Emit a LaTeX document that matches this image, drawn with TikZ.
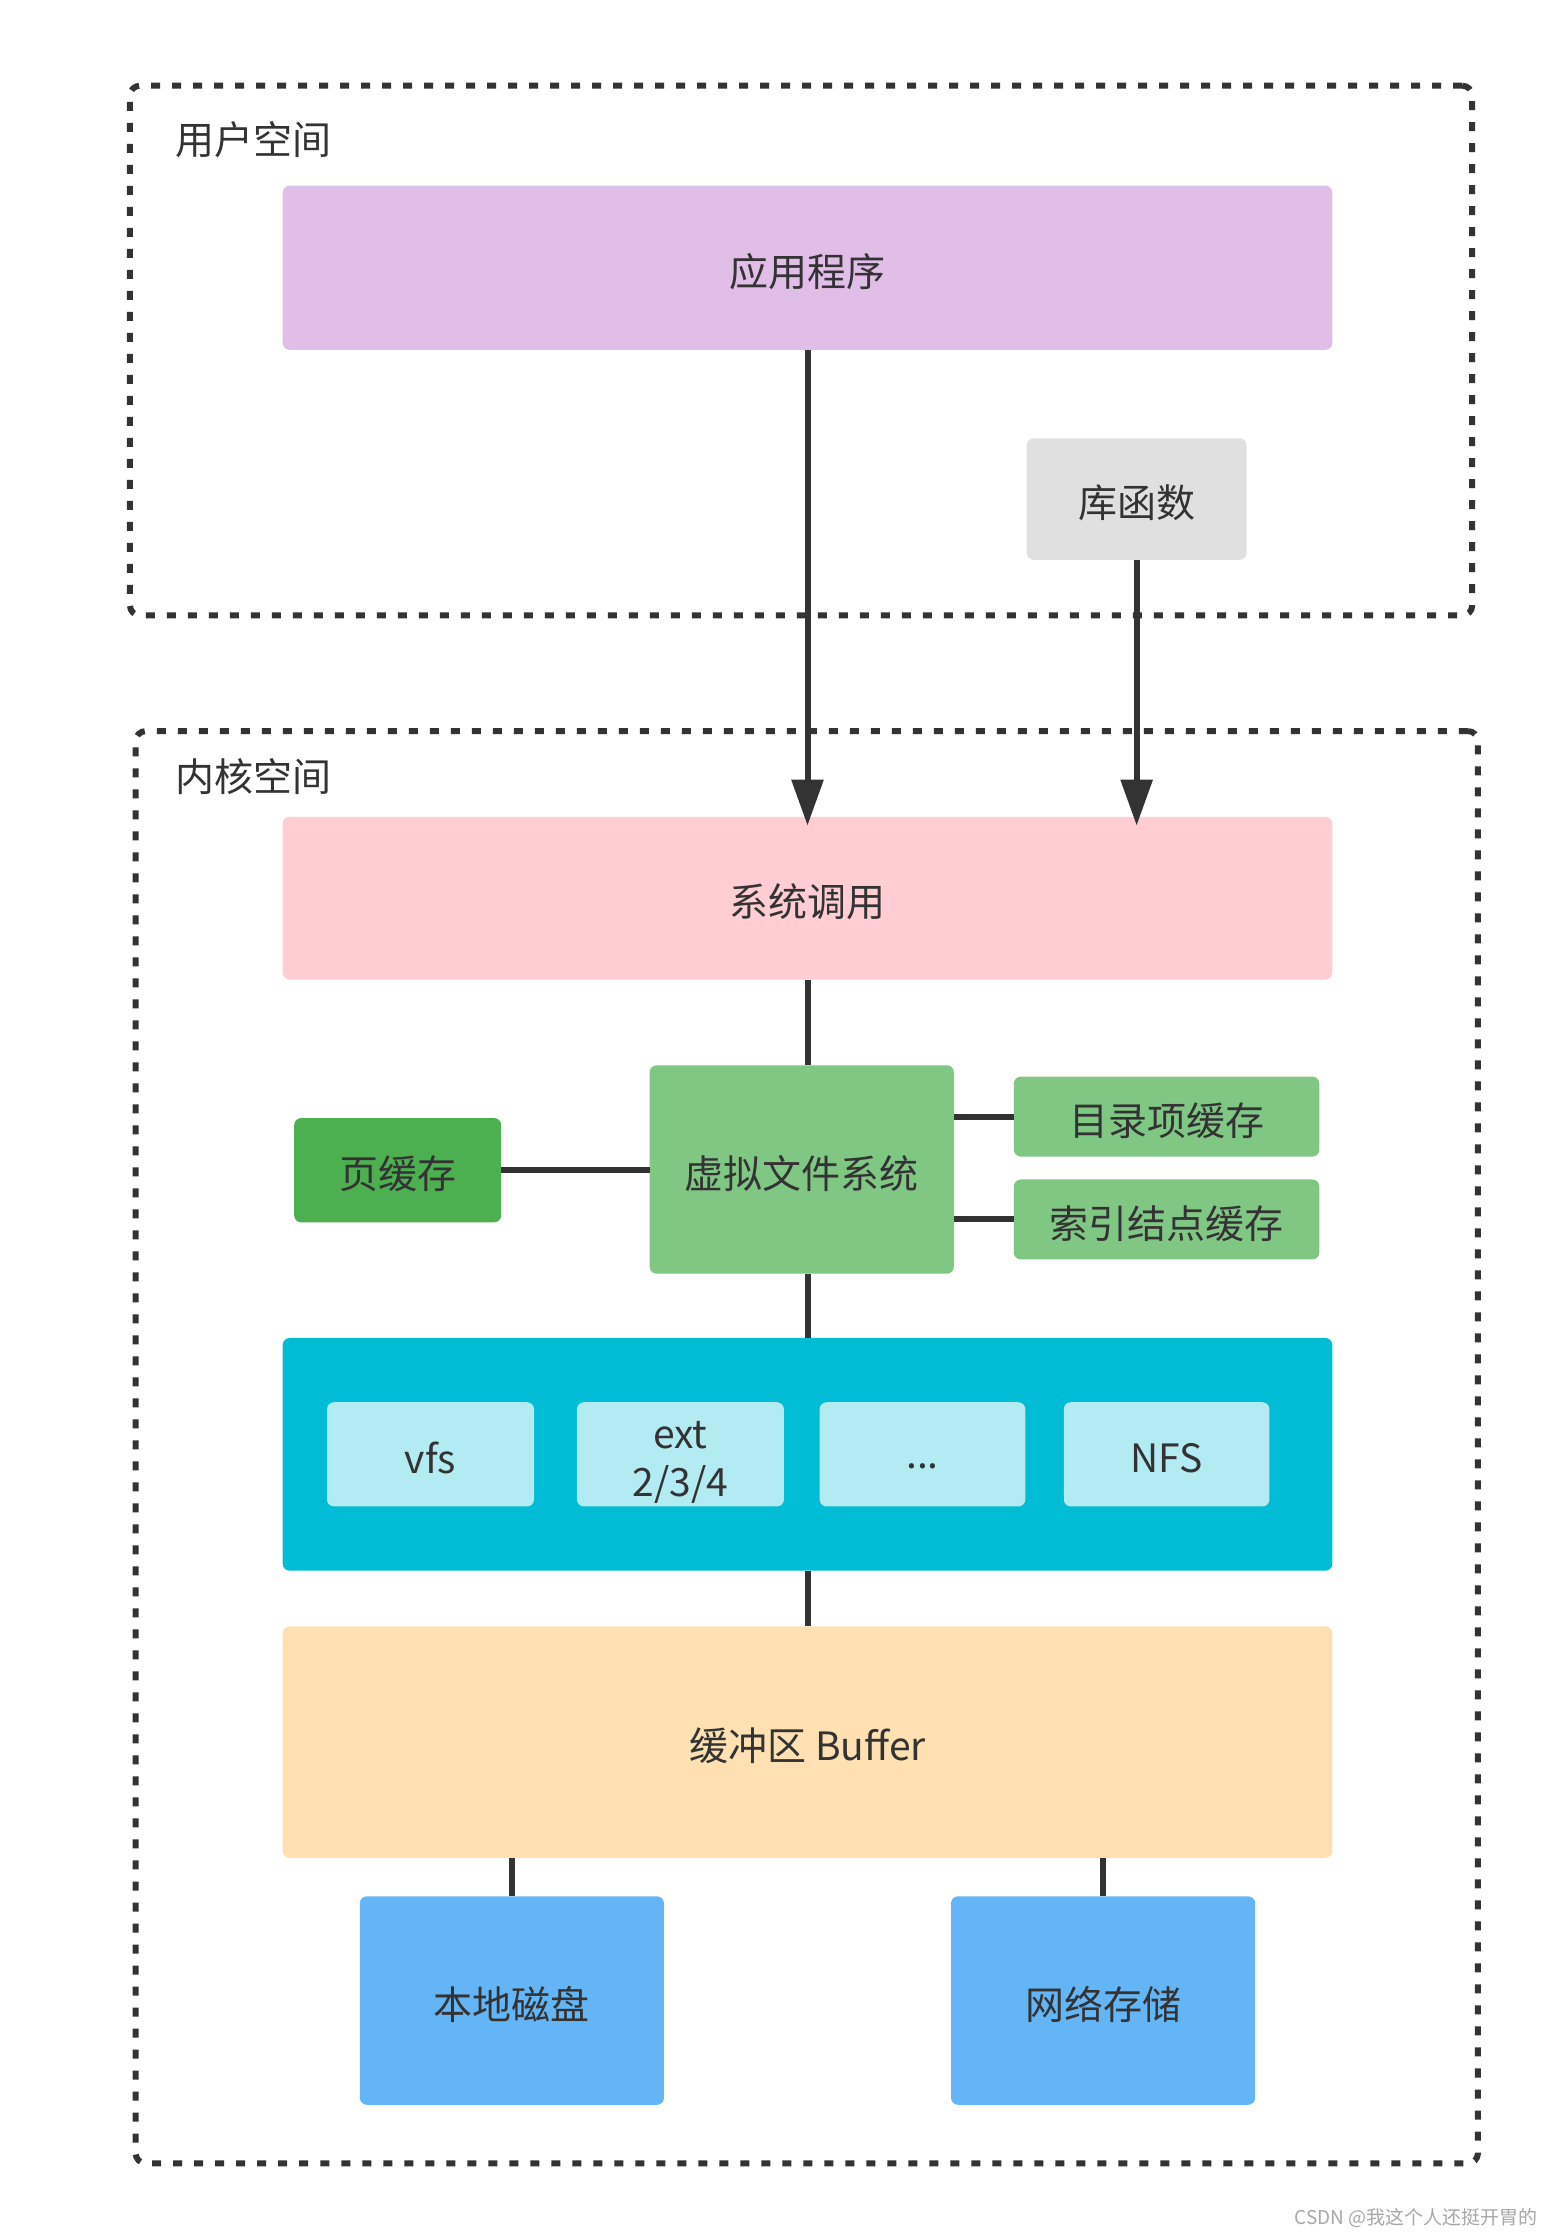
\documentclass[tikz,border=0pt]{standalone}
\usepackage{fontspec}
\setmainfont{Noto Sans CJK SC}
\usetikzlibrary{fit,arrows.meta}
\definecolor{ink}{HTML}{333333}
\definecolor{cApp}{HTML}{E1BEE7}
\definecolor{cLib}{HTML}{E0E0E0}
\definecolor{cSys}{HTML}{FFCDD2}
\definecolor{cVfs}{HTML}{81C784}
\definecolor{cPage}{HTML}{4CAF50}
\definecolor{cFs}{HTML}{00BCD4}
\definecolor{cFsIn}{HTML}{B2EBF2}
\definecolor{cBuf}{HTML}{FFE0B2}
\definecolor{cDisk}{HTML}{64B5F6}
\definecolor{cWm}{HTML}{A8A8A8}
\begin{document}
\begin{tikzpicture}[x=1.4278pt,y=-1.4278pt,
  box/.style={rounded corners=7pt, inner sep=0pt, draw=none},
  txt/.style={text=ink, inner sep=0pt, align=center, yshift=-4pt,
    font=\fontsize{39}{48.5}\selectfont},
  region/.style={draw=ink, line width=6pt, dash pattern=on 9pt off 12pt,
    rounded corners=10pt, inner sep=0pt},
  lbl/.style={text=ink, font=\fontsize{39}{46}\selectfont, inner sep=0pt},
  link/.style={draw=ink, line width=6pt},
  arr/.style={link, -{Triangle[length=46pt,width=31pt]}, shorten >=-9pt},
]
\useasboundingbox[fill=white] (0,0) rectangle (1087,1568);

% regions
\node[region, fit={(91,60) (1031,431)}] (user) {};
\node[region, fit={(95,512) (1035,1515)}] (kernel) {};
\node[lbl, anchor=west] (userlbl) at (123,98) {用户空间};
\node[lbl, anchor=west] (kernlbl) at (123,544) {内核空间};

% boxes
\node[box, fill=cApp, fit={(198,130) (933,245)}] (app) {};
\node[box, fill=cLib, fit={(719,307) (873,392)}] (lib) {};
\node[box, fill=cSys, fit={(198,572) (933,686)}] (sys) {};
\node[box, fill=cVfs, fit={(455,746) (668,892)}] (vfs) {};
\node[box, fill=cPage, fit={(206,783) (351,856)}] (page) {};
\node[box, fill=cVfs, fit={(710,754) (924,810)}] (dentry) {};
\node[box, fill=cVfs, fit={(710,826) (924,882)}] (inode) {};
\node[box, fill=cFs, fit={(198,937) (933,1100)}] (fs) {};
\node[box, fill=cFsIn, fit={(229,982) (374,1055)}] (fs1) {};
\node[box, fill=cFsIn, fit={(404,982) (549,1055)}] (fs2) {};
\node[box, fill=cFsIn, fit={(574,982) (718,1055)}] (fs3) {};
\node[box, fill=cFsIn, fit={(745,982) (889,1055)}] (fs4) {};
\node[box, fill=cBuf, fit={(198,1139) (933,1301)}] (buf) {};
\node[box, fill=cDisk, fit={(252,1328) (465,1474)}] (disk) {};
\node[box, fill=cDisk, fit={(666,1328) (879,1474)}] (net) {};

% texts
\node[txt] (appT) at (app.center) {应用程序};
\node[txt] (libT) at (lib.center) {库函数};
\node[txt] (sysT) at (sys.center) {系统调用};
\node[txt] (vfsT) at (vfs.center) {虚拟文件系统};
\node[txt] (pageT) at (page.center) {页缓存};
\node[txt] (dentryT) at (dentry.center) {目录项缓存};
\node[txt] (inodeT) at (inode.center) {索引结点缓存};
\node[txt] (fs1T) at (fs1.center) {vfs};
\node[txt] (fs2T) at ([yshift=-4pt]fs2.center) {ext\\2/3/4};
\node[txt] (fs3T) at ([yshift=-8pt]fs3.center) {...};
\node[txt] (fs4T) at (fs4.center) {NFS};
\node[txt] (bufT) at (buf.center) {缓冲区 Buffer};
\node[txt] (diskT) at (disk.center) {本地磁盘};
\node[txt] (netT) at (net.center) {网络存储};

% connectors
\draw[arr] (app.south) -- (app.south |- sys.north);
\draw[arr] (lib.south) -- (lib.south |- sys.north);
\draw[link] (sys.south) -- (sys.south |- vfs.north);
\draw[link] (page.east) -- (page.east -| vfs.west);
\draw[link] (dentry.west -| vfs.east) -- (dentry.west);
\draw[link] (inode.west -| vfs.east) -- (inode.west);
\draw[link] (fs.north |- vfs.south) -- (fs.north);
\draw[link] (fs.south) -- (buf.north);
\draw[link] (disk.north |- buf.south) -- (disk.north);
\draw[link] (net.north |- buf.south) -- (net.north);

% watermark
\node[anchor=east, text=cWm, inner sep=0pt, font=\fontsize{19}{22}\selectfont] (wm) at (1077,1553) {CSDN @我这个人还挺开胃的};
\end{tikzpicture}
\end{document}
